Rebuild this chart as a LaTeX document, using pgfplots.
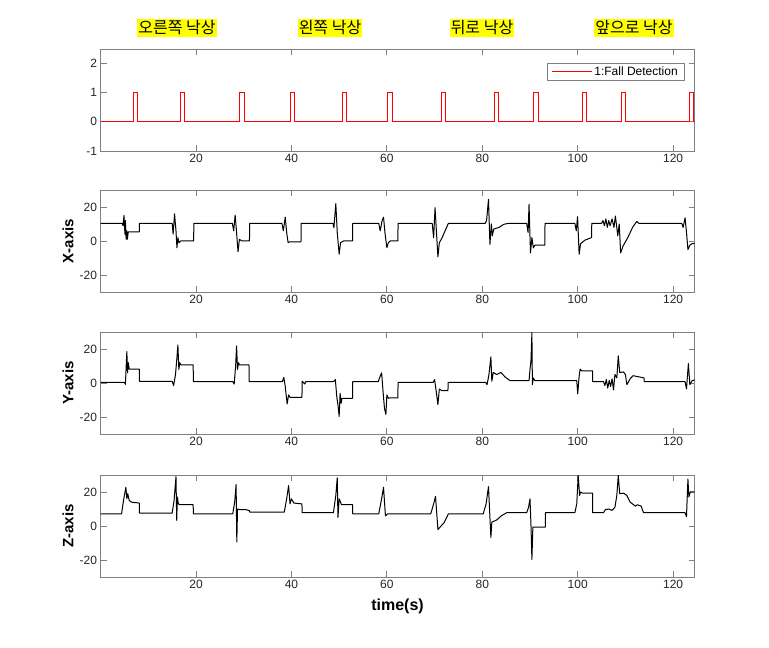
\documentclass[border=0pt]{standalone}
\usepackage{fontspec}
\setmainfont{Liberation Sans}
\newfontfamily\kr{Noto Sans CJK KR}
\usepackage{pgfplots}
\pgfplotsset{compat=1.18}

\definecolor{axgray}{RGB}{128,128,128}
\definecolor{txtgray}{RGB}{38,38,38}
\definecolor{mlred}{RGB}{255,0,0}
\definecolor{mlyellow}{RGB}{255,255,0}

\pgfplotsset{
  sig/.style={
    scale only axis, width=594pt, height=102pt,
    anchor=south west,
    xmin=0, xmax=124.5, ymin=-30, ymax=30,
    xtick={20,40,...,120}, xticklabels={20,40,60,80,100,120},
    ytick={-20,0,20}, yticklabels={-20,0,20},
    tick align=inside, major tick length=6pt,
    axis line style={axgray, line width=0.8pt},
    tick style={axgray, line width=0.8pt},
    ticklabel style={font=\fontsize{12}{14}\selectfont, text=txtgray},
  },
  trace/.style={black, line width=1pt, line join=round},
}

\begin{document}
\begin{tikzpicture}[x=1pt,y=1pt]
\path[use as bounding box, fill=white] (0,0) rectangle (769,648);

% fall detection flag
\begin{axis}[sig, at={(100.6pt,497pt)},
  ymin=-1, ymax=2.5, ytick={-1,0,1,2}, yticklabels={-1,0,1,2},
  legend style={at={(0.982,0.865)}, anchor=north east, draw=axgray,
    font=\fontsize{12}{14}\selectfont, inner xsep=4pt, inner ysep=1.5pt},
  legend image code/.code={\draw[draw=mlred, line width=1.2pt] (0pt,0pt) -- (40pt,0pt);},
]
\addplot[mlred, line width=1pt] table {
t v
0 0
6.8 0
6.8 1
7.7 1
7.7 0
16.7 0
16.7 1
17.6 1
17.6 0
29.2 0
29.2 1
30.1 1
30.1 0
39.8 0
39.8 1
40.7 1
40.7 0
50.7 0
50.7 1
51.6 1
51.6 0
60.2 0
60.2 1
61.1 1
61.1 0
71.4 0
71.4 1
72.3 1
72.3 0
82.6 0
82.6 1
83.5 1
83.5 0
90.7 0
90.7 1
91.7 1
91.7 0
101.0 0
101.0 1
101.9 1
101.9 0
109.1 0
109.1 1
110.0 1
110.0 0
123.4 0
123.4 1
124.3 1
124.3 0
124.5 0
};
\addlegendentry{1:Fall Detection}
\end{axis}

% X axis
\begin{axis}[sig, at={(100.6pt,356pt)}]
\addplot[trace] table {
t v
0 10.4
4.5 10.4
4.7 9
4.9 15
5.1 4
5.2 12
5.35 1
5.5 6
5.6 1
5.8 5.3
8.1 5.3
8.15 10.4
15.0 10.4
15.2 4
15.5 16
15.8 6
16.0 -4
16.2 2
16.4 -1
16.8 0
19.5 0
19.55 10.4
27.6 10.4
27.9 6
28.2 15.3
28.5 5
28.8 -6.3
29.1 1
29.6 0
31.2 0
31.25 10.4
38.0 10.4
38.3 6
38.7 14
39.0 5
39.3 -1
39.6 -0.5
42.0 -0.5
42.05 10.4
48.7 10.4
48.9 7.8
49.3 22
49.6 5
50.0 -7.8
50.3 -1
50.9 0
52.8 0
52.85 10.4
58.3 10.4
58.6 6
59.0 12
59.3 14
59.6 5
60.0 -4
60.3 -1
60.7 0
62.3 0
62.35 10.4
69.5 10.4
69.8 2
70.1 19.6
70.4 5
70.7 -9.4
71.0 -1
71.5 1.5
72.9 10.4
80.6 10.4
80.9 12
81.3 24.5
81.6 -2
81.9 10
82.1 3
82.4 7
83.5 8
84.5 9.8
85.5 10.4
89.3 10.4
89.6 5
89.8 21.6
90.1 -7
90.4 2
90.7 -4
91.0 -2.5
93.1 -2.5
93.15 10.4
99.4 10.4
99.7 6
99.97 14.3
100.3 -7.8
100.6 -1.6
101.5 0.5
102.9 2
102.95 10.4
105.0 10.4
105.3 12
105.6 9
105.9 13
106.2 8
106.5 12
106.8 9
107.2 13
107.6 8
107.9 14.7
108.4 3
108.7 10
109.0 -7
109.5 -3
110.5 2
111.5 8
112.1 10.4
112.4 11.5
112.8 10.4
121.8 10.4
122.1 8
122.5 13.7
122.8 5
123.1 -5
123.5 -2.5
124.0 -1.5
124.5 -1.5
};
\end{axis}

% Y axis
\begin{axis}[sig, at={(100.6pt,214pt)}]
\addplot[trace] table {
t v
0 0.4
5.0 0.4
5.2 -0.8
5.5 18.5
5.65 6
5.8 12
6.0 8.2
8.1 8.2
8.15 1
15.0 1
15.3 -1.6
15.7 5
16.0 15
16.2 22.4
16.4 8
16.6 12
16.8 10.7
19.4 10.7
19.45 0.8
27.7 0.8
28.0 -0.6
28.3 10
28.5 21.8
28.7 8
28.9 12
29.1 10.7
31.1 10.7
31.15 0.8
38.1 0.8
38.4 3.3
38.7 -2
39.1 -12.3
39.4 -7
39.7 -8.4
42.2 -8.4
42.25 1
42.8 -0.6
43.0 0.8
48.8 0.8
49.2 2
49.5 -8
49.8 -14
50.0 -19.7
50.2 -6
50.4 -12
50.6 -9
52.8 -9
52.85 0.8
58.2 0.8
58.6 4
58.9 6
59.2 -5
59.5 -15
59.8 -18.5
60.0 -7
60.3 -9
60.6 -8.8
62.3 -8.8
62.35 0.4
69.7 0.4
70.0 2
70.4 -6
70.7 -12.7
71.0 -3.5
71.5 -4.5
72.8 -4.5
72.85 0.4
80.7 0.4
81.0 -1
81.4 5
81.8 15.4
82.0 1
82.3 6.2
83.0 5
83.9 6.2
84.8 3.5
85.8 1.4
89.8 1.4
90.0 8
90.2 13
90.4 29.7
90.5 -1
90.7 3
91.0 1.4
99.8 1.4
100.0 -6.4
100.3 4
100.5 8.2
100.8 7.2
103.1 7.2
103.15 0.8
105.4 0.8
105.7 -1.5
106.0 2
106.3 -3
106.6 1.5
106.9 -2
107.2 2.5
107.5 -4
107.8 5
108.2 3
108.5 16
108.8 6.2
109.6 6.5
110.0 5
110.3 -1
111.0 2.5
111.6 4.3
113.9 3
113.95 0.8
122.5 0.8
122.8 -3.5
123.2 11.5
123.5 -1
124.0 1.4
124.5 1.8
};
\end{axis}

% Z axis
\begin{axis}[sig, at={(100.6pt,71pt)}]
\addplot[trace] table {
t v
0 7.2
4.4 7.2
4.8 15
5.3 22.8
5.5 16
5.7 19
6.0 15
6.5 14
8.1 13.5
8.15 7.6
15.0 7.6
15.4 15
15.8 29
15.95 3.3
16.1 17
16.3 13
16.6 12.5
19.4 12.5
19.45 7.2
27.7 7.2
28.1 14
28.4 24.4
28.55 -9.4
28.7 10
29.2 9.6
30.5 9.6
31.2 9
31.25 8.2
38.5 8.2
39.0 16
39.4 23.8
39.7 13
40.0 16
40.5 13.5
42.2 13
42.25 7.8
48.8 7.8
49.3 18
49.6 28.3
49.75 5
50.0 16
50.5 12.5
52.8 12.5
52.85 7.2
58.3 7.2
58.9 16
59.3 22.8
59.7 6
60.2 7.2
69.2 7.2
69.8 13
70.2 17.4
70.7 -2.1
71.2 -0.5
72.0 2
72.9 7.2
80.2 7.2
80.8 13
81.3 23.2
81.8 -6.8
82.0 2.3
83.0 3.5
84.0 6
85.1 7.8
89.3 7.8
89.7 11
90.0 16
90.2 1
90.4 -19.7
90.6 -0.6
91.0 -0.6
93.2 -0.6
93.25 7.8
99.4 7.8
99.8 13
100.1 29.7
100.4 18
100.6 20
101.0 19.3
103.1 19.3
103.15 7.8
105.4 7.8
105.8 9.6
106.5 10
107.2 9.2
107.8 11
108.2 18
108.5 29.7
108.8 19
109.6 19.3
110.3 18
111.0 14
112.1 11.7
112.5 12.5
113.3 11.7
113.8 7.8
122.5 7.8
122.8 5.5
123.1 27.7
123.3 17
123.6 20
124.5 20
};
\end{axis}

% labels
\node[rotate=90, font=\fontsize{15}{17}\selectfont\bfseries] at (68,407) {X-axis};
\node[rotate=90, font=\fontsize{15}{17}\selectfont\bfseries] at (68,265) {Y-axis};
\node[rotate=90, font=\fontsize{15}{17}\selectfont\bfseries] at (68,122) {Z-axis};
\node[font=\fontsize{16}{18}\selectfont\bfseries] at (397.5,42) {time(s)};

% fall type titles
\foreach \xx/\tt in {177/오른쪽 낙상, 330/왼쪽 낙상, 482/뒤로 낙상, 634/앞으로 낙상}
  \node[fill=mlyellow, inner xsep=1pt, inner ysep=1.5pt, font=\kr\fontsize{16}{18}\selectfont] at (\xx,620) {\tt};
\end{tikzpicture}
\end{document}
